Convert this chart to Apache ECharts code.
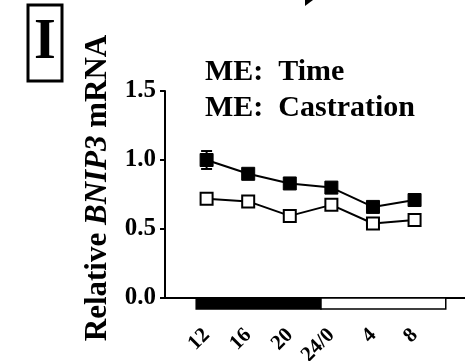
<!DOCTYPE html>
<html><head><meta charset="utf-8">
<script src="https://cdn.jsdelivr.net/npm/echarts@6/dist/echarts.min.js"></script>
<style>html,body{margin:0;padding:0;background:#fff}#c{width:465px;height:361px}</style>
</head><body><div id="c"></div>
<script>
// Data
var hours = [12, 16, 20, 24, 28, 32];
var timeLabels = ['12', '16', '20', '24/0', '4', '8'];
var intact = [1.00, 0.90, 0.83, 0.80, 0.66, 0.71];
var intactErr = [0.065, 0.02, 0.02, 0.02, 0.03, 0.02];
var castrated = [0.72, 0.70, 0.595, 0.675, 0.54, 0.565];
var castratedErr = [0.02, 0.02, 0.02, 0.02, 0.02, 0.02];
var yTicks = [0, 0.5, 1.0, 1.5];
var lightDark = [[11, 23, 'dark'], [23, 35, 'light']];

var FONT = 'Liberation Serif';
function pairs(xs, ys) { return xs.map(function (x, i) { return [x, ys[i]]; }); }
function errData(xs, ys, es) { return xs.map(function (x, i) { return [x, ys[i], es[i]]; }); }

function errRender(params, api) {
  var x = api.value(0), y = api.value(1), e = api.value(2);
  var hi = api.coord([x, y + e]), lo = api.coord([x, y - e]);
  var w = 5.5;
  return { type: 'group', children: [
    { type: 'line', shape: { x1: hi[0], y1: hi[1], x2: lo[0], y2: lo[1] }, style: { stroke: '#000', lineWidth: 2 } },
    { type: 'line', shape: { x1: hi[0] - w, y1: hi[1], x2: hi[0] + w, y2: hi[1] }, style: { stroke: '#000', lineWidth: 2 } },
    { type: 'line', shape: { x1: lo[0] - w, y1: lo[1], x2: lo[0] + w, y2: lo[1] }, style: { stroke: '#000', lineWidth: 2 } }
  ]};
}

var chart = echarts.init(document.getElementById('c'), null, { renderer: 'canvas' });
chart.setOption({
  animation: false,
  backgroundColor: '#fff',
  grid: { left: 165, right: 0, top: 91, bottom: 63, containLabel: false, outerBoundsMode: 'none' },
  xAxis: {
    type: 'value', min: 8, max: 36.85, interval: 4,
    splitLine: { show: false },
    axisLine: { show: true, lineStyle: { color: '#000', width: 2 } },
    axisTick: { show: false },
    axisLabel: {
      rotate: 45, margin: 34, showMinLabel: true, showMaxLabel: true, hideOverlap: false,
      fontFamily: FONT, fontWeight: 'bold', fontSize: 21, color: '#000',
      formatter: function (v) { var i = hours.indexOf(Math.round(v)); return i >= 0 ? timeLabels[i] : ''; }
    }
  },
  yAxis: {
    type: 'value', min: yTicks[0], max: yTicks[yTicks.length - 1], interval: 0.5,
    splitLine: { show: false },
    axisLine: { show: true, lineStyle: { color: '#000', width: 2 } },
    axisTick: { show: true, length: 5, lineStyle: { color: '#000', width: 2 } },
    axisLabel: {
      margin: 9, fontFamily: FONT, fontWeight: 'bold', fontSize: 25, color: '#000',
      formatter: function (v) { return v.toFixed(1); }
    }
  },
  graphic: [
    { type: 'rect', shape: { x: 28, y: 5, width: 34, height: 76 }, style: { fill: '#fff', stroke: '#000', lineWidth: 3 } },
    { type: 'text', x: 45, y: 44, style: { text: 'I', font: 'bold 56px "Liberation Serif"', fill: '#000', textAlign: 'center', textVerticalAlign: 'middle' } },
    { type: 'text', x: 205, y: 87, style: { text: 'ME:  Time', font: 'bold 30px "Liberation Serif"', fill: '#000', textAlign: 'left', textVerticalAlign: 'bottom' } },
    { type: 'text', x: 205, y: 123, style: { text: 'ME:  Castration', font: 'bold 30px "Liberation Serif"', fill: '#000', textAlign: 'left', textVerticalAlign: 'bottom' } },
    { type: 'text', x: 98, y: 188, rotation: Math.PI / 2,
      style: { text: 'Relative {i|BNIP3} mRNA', font: 'bold 31px "Liberation Serif"', fill: '#000', textAlign: 'center', textVerticalAlign: 'middle',
        rich: { i: { fontFamily: FONT, fontWeight: 'bold', fontStyle: 'italic', fontSize: 31, fill: '#000' } } } },
    { type: 'polygon', shape: { points: [[305, 0], [313, 0], [305, 6]] }, style: { fill: '#000' } }
  ],
  series: [
    {
      type: 'custom', clip: false, z: 1, silent: true,
      data: lightDark,
      renderItem: function (params, api) {
        var a = api.coord([api.value(0), 0]), b = api.coord([api.value(1), 0]);
        var dark = lightDark[params.dataIndex][2] === 'dark';
        return { type: 'rect', shape: { x: a[0], y: a[1], width: b[0] - a[0], height: 11 },
          style: { fill: dark ? '#000' : '#fff', stroke: '#000', lineWidth: 1.5 } };
      }
    },
    { type: 'custom', z: 2, clip: false, data: errData(hours, intact, intactErr), renderItem: errRender },
    { type: 'custom', z: 2, clip: false, data: errData(hours, castrated, castratedErr), renderItem: errRender },
    {
      type: 'line', z: 3, data: pairs(hours, intact), symbol: 'rect', symbolSize: 13,
      lineStyle: { color: '#000', width: 2 }, itemStyle: { color: '#000', borderColor: '#000', borderWidth: 1 }
    },
    {
      type: 'line', z: 3, data: pairs(hours, castrated), symbol: 'rect', symbolSize: 12,
      lineStyle: { color: '#000', width: 2 }, itemStyle: { color: '#fff', borderColor: '#000', borderWidth: 2 }
    }
  ]
});
</script></body></html>
